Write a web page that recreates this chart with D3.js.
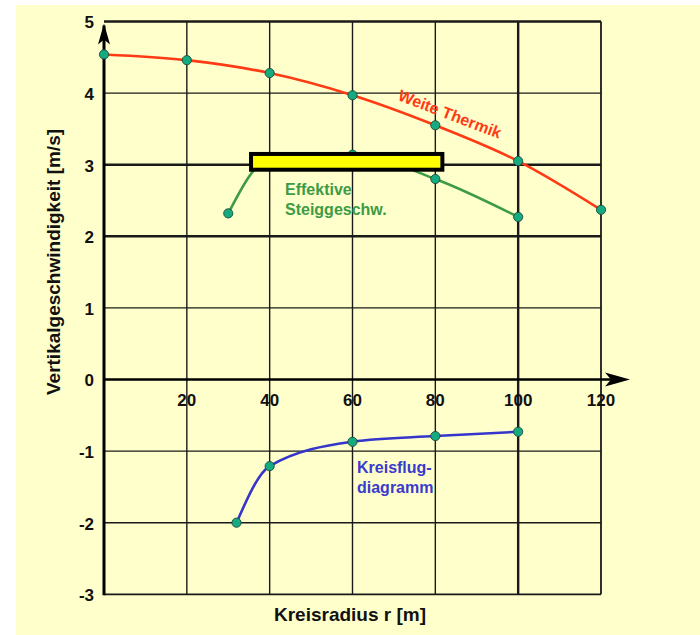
<!DOCTYPE html>
<html>
<head>
<meta charset="utf-8">
<script src="https://cdn.jsdelivr.net/npm/d3@7"></script>
<style>
  body { margin: 0; background: #fff; }
  text { font-family: "Liberation Sans", Arial, sans-serif; font-weight: bold; }
</style>
</head>
<body>
<div id="chart"></div>
<script>
// x ticks / y ticks
const xTicks = [20, 40, 60, 80, 100, 120];
const yTicks = [5, 4, 3, 2, 1, 0, -1, -2, -3];

// Weite Thermik
const thermikR = [0, 20, 40, 60, 80, 100, 120];
const thermikV = [4.54, 4.46, 4.28, 3.97, 3.55, 3.05, 2.37];

// Effektive Steiggeschw.
const steigR = [30, 40, 60, 80, 100];
const steigV = [2.32, 3.08, 3.14, 2.80, 2.27];

// Kreisflugdiagramm
const kreisR = [32, 40, 60, 80, 100];
const kreisV = [-2.0, -1.21, -0.87, -0.79, -0.73];

// yellow marker box (data units)
const boxR = [35.5, 81.7];
const boxV = [2.93, 3.15];

const width = 700, height = 635;
const marginLeft = 104, marginRight = 99, marginTop = 21.5, marginBottom = 40.7;

const svg = d3.select("#chart").append("svg")
    .attr("width", width)
    .attr("height", height);

svg.append("rect")
    .attr("x", 16).attr("y", 5)
    .attr("width", width - 16).attr("height", height - 5)
    .attr("fill", "#ffffcc");

const x = d3.scaleLinear().domain([0, 120]).range([marginLeft, width - marginRight]);
const y = d3.scaleLinear().domain([-3, 5]).range([height - marginBottom, marginTop]);

// grid
const thickY = [5, 3, 2];
const grid = svg.append("g").attr("stroke", "#1a1a1a");
grid.selectAll(".h")
  .data(yTicks.filter(d => d !== 0))
  .join("line")
    .attr("x1", x(0)).attr("x2", x(120))
    .attr("y1", d => y(d)).attr("y2", d => y(d))
    .attr("stroke-width", d => thickY.includes(d) ? 2.6 : (d === -3 ? 1.8 : 1.4));
grid.selectAll(".v")
  .data(xTicks)
  .join("line")
    .attr("x1", d => x(d)).attr("x2", d => x(d))
    .attr("y1", y(5)).attr("y2", y(-3))
    .attr("stroke-width", d => d === 100 ? 2.4 : (d === 120 ? 1.8 : 1.4));

// curves
const line = d3.line()
    .x(d => x(d[0]))
    .y(d => y(d[1]))
    .curve(d3.curveMonotoneX);

const series = [
  { r: thermikR, v: thermikV, color: "#ff3a14" },
  { r: steigR, v: steigV, color: "#3d9b45" },
  { r: kreisR, v: kreisV, color: "#3535cc" }
];

series.forEach(s => {
  const pts = s.r.map((r, i) => [r, s.v[i]]);
  svg.append("path")
      .datum(pts)
      .attr("fill", "none")
      .attr("stroke", s.color)
      .attr("stroke-width", 2.6)
      .attr("d", line);
});

// axes with arrows
svg.append("line")
    .attr("x1", x(0)).attr("x2", x(0))
    .attr("y1", y(-3) + 1).attr("y2", y(5) + 4)
    .attr("stroke", "#000").attr("stroke-width", 3);
svg.append("line")
    .attr("x1", x(0)).attr("x2", x(120) + 20)
    .attr("y1", y(0)).attr("y2", y(0))
    .attr("stroke", "#000").attr("stroke-width", 2.6);

const ax = x(0), ay = y(5) + 2;
svg.append("path")
    .attr("d", `M${ax},${ay} L${ax + 6},${ay + 21} L${ax},${ay + 16} L${ax - 6},${ay + 21} Z`)
    .attr("fill", "#000");
const bx = x(120) + 29, by = y(0);
svg.append("path")
    .attr("d", `M${bx},${by} L${bx - 25},${by - 7} L${bx - 19},${by} L${bx - 25},${by + 7} Z`)
    .attr("fill", "#000");

// points
series.forEach(s => {
  svg.append("g")
    .selectAll("circle")
    .data(s.r.map((r, i) => [r, s.v[i]]))
    .join("circle")
      .attr("cx", d => x(d[0]))
      .attr("cy", d => y(d[1]))
      .attr("r", 4.6)
      .attr("fill", "#15aa80")
      .attr("stroke", "#1d4a3a")
      .attr("stroke-width", 0.9);
});

// yellow box
svg.append("rect")
    .attr("x", x(boxR[0]))
    .attr("y", y(boxV[1]))
    .attr("width", x(boxR[1]) - x(boxR[0]))
    .attr("height", y(boxV[0]) - y(boxV[1]))
    .attr("fill", "#ffff00")
    .attr("stroke", "#000")
    .attr("stroke-width", 4);

// tick labels
svg.append("g")
  .selectAll("text")
  .data(yTicks)
  .join("text")
    .attr("x", 94)
    .attr("y", d => y(d))
    .attr("dy", "0.4em")
    .attr("text-anchor", "end")
    .attr("font-size", 17)
    .attr("fill", "#111")
    .text(d => d);

svg.append("g")
  .selectAll("text")
  .data(xTicks)
  .join("text")
    .attr("x", d => x(d))
    .attr("y", y(0) + 21)
    .attr("dy", "0.35em")
    .attr("text-anchor", "middle")
    .attr("font-size", 17)
    .attr("fill", "#111")
    .text(d => d);

// axis titles
svg.append("text")
    .attr("x", 350).attr("y", 621)
    .attr("text-anchor", "middle")
    .attr("font-size", 19)
    .attr("fill", "#111")
    .text("Kreisradius r [m]");

svg.append("text")
    .attr("transform", "translate(60,262) rotate(-90)")
    .attr("text-anchor", "middle")
    .attr("font-size", 19)
    .attr("fill", "#111")
    .text("Vertikalgeschwindigkeit [m/s]");

// series labels
svg.append("text")
    .attr("transform", "translate(450,114) rotate(21)")
    .attr("text-anchor", "middle")
    .attr("dy", "0.35em")
    .attr("font-size", 16)
    .attr("fill", "#ff3a14")
    .text("Weite Thermik");

svg.append("text")
    .attr("x", 285).attr("y", 195)
    .attr("font-size", 16)
    .attr("fill", "#3d9b45")
    .call(t => t.append("tspan").text("Effektive"))
    .call(t => t.append("tspan").attr("x", 285).attr("dy", 20).text("Steiggeschw."));

svg.append("text")
    .attr("x", 357).attr("y", 473)
    .attr("font-size", 16)
    .attr("fill", "#3a3acc")
    .call(t => t.append("tspan").text("Kreisflug-"))
    .call(t => t.append("tspan").attr("x", 357).attr("dy", 20).text("diagramm"));
</script>
</body>
</html>
